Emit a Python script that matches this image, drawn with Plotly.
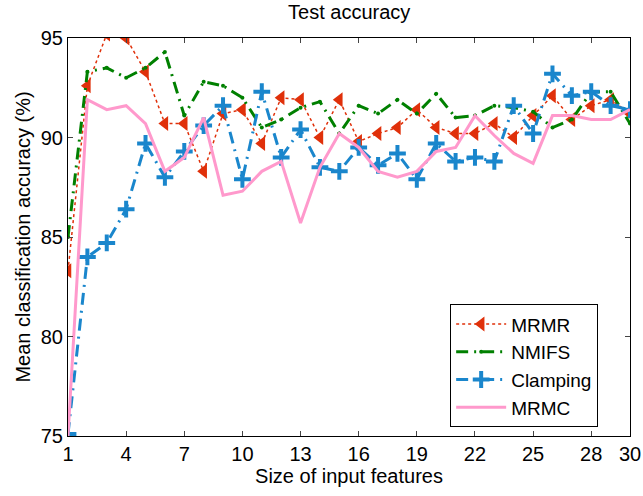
import plotly.graph_objects as go

x = list(range(1, 31))
mrmr = [83.3, 92.6, 95.2, 95.0, 93.3, 90.7, 90.7, 88.3, 91.2, 91.4,
        89.7, 92.0, 91.9, 90.0, 91.9, 89.8, 90.2, 90.5, 91.4, 90.5,
        90.2, 90.2, 90.7, 90.0, 91.1, 92.1, 90.9, 91.6, 91.9, 91.2]
nmifs = [85.0, 93.3, 93.5, 93.0, 93.5, 94.3, 91.1, 92.8, 92.6, 92.0,
         90.5, 90.9, 91.5, 91.8, 90.2, 91.6, 91.2, 91.9, 91.2, 92.2,
         91.0, 91.1, 91.6, 91.5, 91.3, 90.5, 90.9, 92.3, 92.3, 90.7]
clamping = [75.1, 84.0, 84.7, 86.4, 89.7, 88.0, 89.3, 90.6, 91.6, 87.9,
            92.3, 89.0, 90.4, 88.5, 88.3, 89.5, 88.6, 89.2, 87.9, 89.7,
            88.8, 89.0, 88.8, 91.6, 90.2, 93.2, 92.1, 92.3, 91.6, 91.4]
mrmc = [75.0, 91.9, 91.4, 91.6, 90.7, 88.3, 89.0, 91.0, 87.1, 87.3,
        88.3, 88.8, 85.7, 88.5, 90.2, 89.5, 88.3, 88.0, 88.3, 89.3,
        89.5, 91.1, 90.1, 89.2, 88.7, 91.1, 91.1, 90.9, 90.9, 91.4]
xticks = [1, 4, 7, 10, 13, 16, 19, 22, 25, 28, 30]
yticks = [75, 80, 85, 90, 95]

fig = go.Figure()
fig.add_trace(go.Scatter(x=x, y=mrmr, name="MRMR", mode="lines+markers",
                         line=dict(color="#e0300a", width=1.5, dash="dot"),
                         marker=dict(symbol="triangle-left", size=13, color="#e0300a")))
fig.add_trace(go.Scatter(x=x, y=nmifs, name="NMIFS", mode="lines+markers",
                         line=dict(color="#008000", width=3, dash="12px,6px,2px,6px"),
                         marker=dict(symbol="circle", size=4, color="#008000")))
fig.add_trace(go.Scatter(x=x, y=clamping, name="Clamping", mode="lines+markers",
                         line=dict(color="#1a86cc", width=3, dash="12px,6px,2px,6px"),
                         marker=dict(symbol="cross-thin", size=12,
                                     line=dict(color="#1a86cc", width=4))))
fig.add_trace(go.Scatter(x=x, y=mrmc, name="MRMC", mode="lines",
                         line=dict(color="#ff99cc", width=3)))

fig.update_layout(
    width=643, height=496,
    margin=dict(l=68, r=13, t=38, b=60),
    paper_bgcolor="white", plot_bgcolor="white",
    font=dict(family="Liberation Sans, Arial, sans-serif", size=20, color="black"),
    title=dict(text="Test accuracy", x=0.543, xanchor="center", y=0.99, yanchor="top",
               font=dict(size=20)),
    legend=dict(x=0.68, y=0.022, xanchor="left", yanchor="bottom",
                bordercolor="black", borderwidth=1, bgcolor="white",
                font=dict(size=19), itemwidth=50, tracegroupgap=0),
    showlegend=True,
)
fig.update_xaxes(range=[1, 30], tickvals=xticks, ticks="inside", ticklen=5,
                 showline=True, linecolor="black", linewidth=1, mirror="allticks",
                 showgrid=False, zeroline=False, automargin=False,
                 title=dict(text="Size of input features", standoff=2, font=dict(size=20)))
fig.update_yaxes(range=[75, 95], tickvals=yticks, ticks="inside", ticklen=5,
                 showline=True, linecolor="black", linewidth=1, mirror="allticks",
                 showgrid=False, zeroline=False, automargin=False,
                 title=dict(text="Mean classification accuracy (%)", standoff=4, font=dict(size=20)))

fig.write_html("out.html")
